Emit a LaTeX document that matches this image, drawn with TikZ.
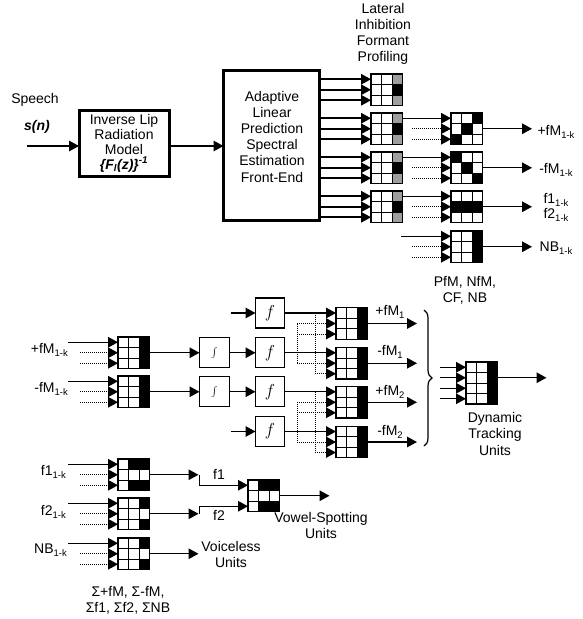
\documentclass[tikz,border=0pt]{standalone}
\usepackage{fontspec}
\setmainfont{Liberation Sans}
\usetikzlibrary{arrows.meta,calc,decorations.pathreplacing}
\definecolor{gry}{gray}{0.62}
\newcommand{\sub}[1]{\raisebox{-2.5pt}{\fontsize{9.5}{10}\selectfont #1}}
\newcommand{\ublock}[5]{%
  \foreach \cc/\rr/\kk in {#5}{\fill[\kk] ({#2+(\cc-1)*10.5},{#3+(\rr-1)*10.5}) rectangle ++(10.5,10.5);}
  \foreach \ii in {1,2}{\draw[cellline] ({#2+\ii*10.5},#3) -- ++(0,{#4*10.5});}
  \pgfmathtruncatemacro\lastrow{#4-1}
  \foreach \jj in {1,...,\lastrow}{\draw[cellline] (#2,{#3+\jj*10.5}) -- ++(31.5,0);}
  \node[blk, minimum height={#4*10.5pt}, anchor=north west] (#1) at (#2,#3) {};
  \foreach \jj in {1,...,#4}{\coordinate (#1-\jj) at (#2,{#3+(\jj-0.5)*10.5});}
}
\begin{document}
\begin{tikzpicture}[x=1pt,y=-1pt,
  font=\fontsize{14}{16}\selectfont,
  cellline/.style={line width=0.8pt},
  blk/.style={draw, line width=1.4pt, minimum width=31.5pt, inner sep=0pt, outer sep=0pt},
  thickbox/.style={draw, line width=3pt, inner sep=0pt, outer sep=0pt, fill=white},
  sbox/.style={draw, line width=1.3pt, minimum width=30pt, minimum height=30pt, inner sep=0pt, outer sep=0pt},
  arr/.style={line width=1.4pt, -{Triangle[length=10pt,width=10.5pt]}},
  dotl/.style={line width=1pt, dash pattern=on 1pt off 1pt},
  txt/.style={inner sep=0pt, align=center}]
\useasboundingbox (0,0) rectangle (583,619);

% ---------- top ----------
\node[txt] (speech) at (35,100) {Speech};
\node[txt, font=\fontsize{14}{16}\selectfont\bfseries\itshape] (sn) at (37,127) {s(n)};
\coordinate (sin) at (27,146);
\node[thickbox, minimum width=90pt, minimum height=66pt, font=\fontsize{14}{15}\selectfont, align=center] (ilr) at (124,143)
  {Inverse Lip\\Radiation\\Model\\\textbf{\textit{\{F\textsubscript{l}(z)\}\textsuperscript{-1}}}};
\draw[arr] (sin) -- (sin -| ilr.west);
\node[thickbox, minimum width=96pt, minimum height=150pt] (alp) at (271.5,145.5) {};
\node[txt, font=\fontsize{14}{16.2}\selectfont] (alpt) at (272,136.5) {Adaptive\\Linear\\Prediction\\Spectral\\Estimation\\Front-End};
\draw[arr] (sin -| ilr.east) -- (sin -| alp.west);

\node[txt] (lat) at (383,34) {Lateral\\Inhibition\\Formant\\Profiling};

\ublock{L1}{371}{74}{3}{3/1/gry,3/2/black,3/3/gry}
\ublock{L2}{371}{113}{3}{3/1/gry,3/2/black,3/3/gry}
\ublock{L3}{371}{152}{3}{3/1/gry,3/2/black,3/3/gry}
\ublock{L4}{371}{191}{3}{3/1/gry,3/2/black,3/3/gry}
\foreach \b in {L1,L2,L3,L4}{\foreach \j in {1,2,3}{\draw[arr, line width=1.6pt] (\b-\j -| alp.east) -- (\b-\j);}}

\ublock{B1}{451}{113}{3}{3/1/black,2/2/black,1/3/black}
\ublock{B2}{451}{152}{3}{1/1/black,2/2/black,3/3/black}
\ublock{B3}{451}{191}{3}{1/2/black,2/2/black,3/2/black}
\ublock{B4}{451}{231}{3}{3/1/black,3/2/black,3/3/black}
\draw[arr] (B1-1 -| L2.east) -- (B1-1);
\draw[arr] (B2-1 -| L3.east) -- (B2-1);
\draw[arr] (B3-1 -| L4.east) -- (B3-1);
\draw[arr] ([xshift=-50pt]B4-1) -- (B4-1);
\foreach \b in {B1,B2,B3,B4}{\foreach \j in {2,3}{\draw[dotl] ([xshift=-39pt]\b-\j) -- ([xshift=-9pt]\b-\j); \draw[arr] ([xshift=-10.5pt]\b-\j) -- (\b-\j);}}
\foreach \b in {B1,B2,B3,B4}{\draw[arr] (\b.east) -- ++(49.5,0);}
\node[txt] (o1) at (556,132) {+fM\sub{1-k}};
\node[txt] (o2) at (556,170) {-fM\sub{1-k}};
\node[txt] (o3) at (556,200) {f1\sub{1-k}};
\node[txt] (o4) at (556,215) {f2\sub{1-k}};
\node[txt] (o5) at (556,248) {NB\sub{1-k}};
\node[txt] (pfm) at (465,290) {PfM, NfM,\\CF, NB};

% ---------- middle ----------
\ublock{A}{118}{337}{3}{3/1/black,3/2/black,3/3/black}
\ublock{Bm}{118}{376}{3}{3/1/black,3/2/black,3/3/black}
\node[txt, anchor=east] (la) at (68,350) {+fM\sub{1-k}};
\node[txt, anchor=east] (lb) at (68,389) {-fM\sub{1-k}};
\foreach \b in {A,Bm}{\draw[arr] ([xshift=-50pt]\b-1) -- (\b-1);
  \foreach \j in {2,3}{\draw[dotl] ([xshift=-38pt]\b-\j) -- ([xshift=-9pt]\b-\j); \draw[arr] ([xshift=-10.5pt]\b-\j) -- (\b-\j);}}
\node[sbox] (i1) at (214.5,352.75) {\fontsize{15}{15}\selectfont$\int$};
\node[sbox] (i2) at (214.5,391.75) {\fontsize{15}{15}\selectfont$\int$};
\node[sbox, minimum width=29pt] (f1) at (270,313) {\fontsize{17}{17}\selectfont$f$};
\node[sbox, minimum width=29pt] (f2) at (270,352.75) {\fontsize{17}{17}\selectfont$f$};
\node[sbox, minimum width=29pt] (f3) at (270,391.75) {\fontsize{17}{17}\selectfont$f$};
\node[sbox, minimum width=29pt] (f4) at (270,431.5) {\fontsize{17}{17}\selectfont$f$};
\draw[arr] (A.east) -- (i1.west);
\draw[arr] (Bm.east) -- (i2.west);
\draw[arr] (i1.east) -- (f2.west);
\draw[arr] (i2.east) -- (f3.west);
\draw[arr] ([xshift=-25pt]f1.west) -- (f1.west);
\draw[arr] ([xshift=-25pt]f4.west) -- (f4.west);

\ublock{S1}{336}{307.75}{3}{3/1/black,3/2/black,3/3/black}
\ublock{S2}{336}{347.5}{3}{3/1/black,3/2/black,3/3/black}
\ublock{S3}{336}{386.5}{3}{3/1/black,3/2/black,3/3/black}
\ublock{S4}{336}{426.25}{3}{3/1/black,3/2/black,3/3/black}
\draw[arr] (f1.east) -- (S1-1);
\draw[arr] (f2.east) -- (S2-1);
\draw[arr] (f3.east) -- (S3-1);
\draw[arr] (f4.east) -- (S4-1);
\foreach \u/\v in {S1/S2,S3/S4}{
  \draw[dotl] ([xshift=-39pt]\u-2) -- ([xshift=-39pt]\v-2);
  \draw[dotl] ([xshift=-21pt]\u-1) -- ([xshift=-21pt]\v-3);
  \draw[dotl] ([xshift=-39pt]\u-2) -- ([xshift=-9pt]\u-2);
  \draw[dotl] ([xshift=-39pt]\u-3) -- ([xshift=-9pt]\u-3);
  \draw[dotl] ([xshift=-39pt]\v-2) -- ([xshift=-9pt]\v-2);
  \draw[dotl] ([xshift=-21pt]\v-3) -- ([xshift=-9pt]\v-3);
  \foreach \w in {\u-2,\u-3,\v-2,\v-3}{\draw[arr] ([xshift=-10.5pt]\w) -- (\w);}}
\foreach \b in {S1,S2,S3,S4}{\draw[arr] (\b.east) -- ++(49.5,0);}
\node[txt] (m1) at (390,312) {+fM\sub{1}};
\node[txt] (m2) at (390,352) {-fM\sub{1}};
\node[txt] (m3) at (390,392) {+fM\sub{2}};
\node[txt] (m4) at (390,432) {-fM\sub{2}};
\draw[decorate, decoration={brace, amplitude=8pt}, line width=1.2pt] (424,310) -- (424,446);

\ublock{DT}{466}{362}{4}{3/1/black,3/2/black,3/3/black,3/4/black}
\foreach \j in {1,2,3,4}{\draw[arr] ([xshift=-26pt]DT-\j) -- (DT-\j);}
\draw[arr] (DT-2 -| DT.east) -- ++(49,0);
\node[txt, font=\fontsize{14}{16.5}\selectfont] (dtu) at (495,433.5) {Dynamic\\Tracking\\Units};

% ---------- bottom ----------
\ublock{C1}{118}{459}{3}{2/1/black,3/1/black,2/3/black,3/3/black}
\ublock{C2}{118}{498}{3}{3/1/black,3/3/black}
\ublock{C3}{118}{538}{3}{3/1/black,3/3/black}
\node[txt, anchor=east] (lc1) at (66,472) {f1\sub{1-k}};
\node[txt, anchor=east] (lc2) at (66,512) {f2\sub{1-k}};
\node[txt, anchor=east] (lc3) at (67,550) {NB\sub{1-k}};
\foreach \b in {C1,C2,C3}{\draw[arr] ([xshift=-50pt]\b-1) -- (\b-1);
  \foreach \j in {2,3}{\draw[dotl] ([xshift=-38pt]\b-\j) -- ([xshift=-9pt]\b-\j); \draw[arr] ([xshift=-10.5pt]\b-\j) -- (\b-\j);}}
\ublock{VS}{248}{480}{3}{2/1/black,3/1/black,2/3/black,3/3/black}
\coordinate (j1) at ($(C1.east)+(49,0)$);
\coordinate (j2) at ($(C2.east)+(49,0)$);
\draw[arr] (C1.east) -- (j1);
\draw[arr] (C2.east) -- (j2);
\draw[arr] ([xshift=1pt]j1) |- (VS-1);
\draw[arr] ([xshift=1pt]j2) |- (VS-3);
\node[txt] (tf1) at (219,474) {f1};
\node[txt] (tf2) at (219,515) {f2};
\draw[arr] (VS.east) -- ++(50,0);
\node[txt, font=\fontsize{14}{15.5}\selectfont] (vsu) at (321,525.5) {Vowel-Spotting\\Units};
\draw[arr] (C3.east) -- ++(49,0);
\node[txt, font=\fontsize{14}{15.5}\selectfont] (vcu) at (231,554.5) {Voiceless\\Units};
\node[txt, font=\fontsize{14}{15.5}\selectfont] (sig) at (128,600.5) {Σ+fM, Σ-fM,\\Σf1, Σf2, ΣNB};
\end{tikzpicture}
\end{document}
